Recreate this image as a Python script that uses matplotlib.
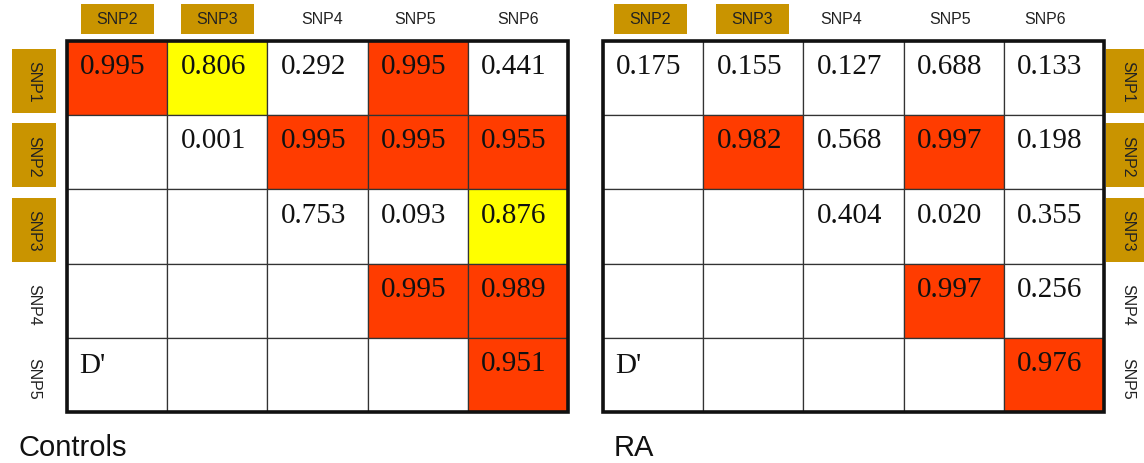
import matplotlib
matplotlib.use("Agg")
import matplotlib.pyplot as plt
from matplotlib.patches import Rectangle

snps_cols = ["SNP2", "SNP3", "SNP4", "SNP5", "SNP6"]
snps_rows = ["SNP1", "SNP2", "SNP3", "SNP4", "SNP5"]
highlight = {"SNP2", "SNP3"}

# Pairwise D' values, upper triangle (row SNP i vs column SNP j); None = empty
controls = [
    [0.995, 0.806, 0.292, 0.995, 0.441],
    [None, 0.001, 0.995, 0.995, 0.955],
    [None, None, 0.753, 0.093, 0.876],
    [None, None, None, 0.995, 0.989],
    [None, None, None, None, 0.951],
]
ra = [
    [0.175, 0.155, 0.127, 0.688, 0.133],
    [None, 0.982, 0.568, 0.997, 0.198],
    [None, None, 0.404, 0.020, 0.355],
    [None, None, None, 0.997, 0.256],
    [None, None, None, None, 0.976],
]
panel_titles = ["Controls", "RA"]

RED = "#ff3c00"
YELLOW = "#ffff00"
GOLD = "#c99400"

W, H = 1144, 464
fig = plt.figure(figsize=(W / 100, H / 100), dpi=100)


def px_axes(x0, y0, x1, y1):
    return fig.add_axes([x0 / W, 1 - y1 / H, (x1 - x0) / W, (y1 - y0) / H])


def cell_color(v):
    if v is None:
        return "white"
    if v >= 0.9:
        return RED
    if v >= 0.8:
        return YELLOW
    return "white"


def draw_panel(ax, data, label_side, col_shift):
    n = len(data)
    ax.set_xlim(0, n)
    ax.set_ylim(n, 0)
    ax.set_axis_off()
    ux = 501 / n  # pixels per column
    uy = 371 / n  # pixels per row
    for i, row in enumerate(data):
        for j, v in enumerate(row):
            ax.add_patch(Rectangle((j, i), 1, 1, facecolor=cell_color(v),
                                   edgecolor="#333333", linewidth=0.9))
            if v is not None:
                ax.text(j + 0.46, i + 0.34, f"{v:.3f}", ha="center", va="center",
                        fontsize=21, family="Liberation Serif", color="#111111")
    ax.text(0.12, n - 0.64, "D'", ha="left", va="center", fontsize=21,
            family="Liberation Serif", color="#111111")
    ax.add_patch(Rectangle((0, 0), n, n, fill=False, edgecolor="#111111",
                           linewidth=2.6, clip_on=False, zorder=5))
    # column headers
    bw, bh = 73 / ux, 30 / uy
    for j, name in enumerate(snps_cols):
        cx = j + 0.5 + col_shift[j]
        cy = -22 / uy
        if name in highlight:
            ax.add_patch(Rectangle((cx - bw / 2, cy - bh / 2), bw, bh,
                                   facecolor=GOLD, edgecolor="none", clip_on=False))
        ax.text(cx, cy, name, ha="center", va="center", fontsize=11.5,
                family="Liberation Sans", color="#222222")
    # row headers
    rw, rh = 44 / ux, 64 / uy
    for i, name in enumerate(snps_rows):
        if label_side == "left":
            cx = -33 / ux
        else:
            cx = n + 24 / ux
        cy = i + 0.5 + 3 / uy
        if name in {"SNP1"} | highlight:
            ax.add_patch(Rectangle((cx - rw / 2, cy - rh / 2), rw, rh,
                                   facecolor=GOLD, edgecolor="none", clip_on=False))
        ax.text(cx, cy, name, ha="center", va="center", fontsize=11.5,
                family="Liberation Sans", color="#222222", rotation=-90)


ax1 = px_axes(67, 42, 568, 413)
draw_panel(ax1, controls, "left", [0, 0, 0.05, -0.03, 0])
ax2 = px_axes(603, 42, 1104, 413)
draw_panel(ax2, ra, "right", [-0.03, -0.01, -0.12, -0.04, -0.09])

fig.text(18 / W, 1 - 448 / H, panel_titles[0], ha="left", va="center",
         fontsize=21, family="Liberation Sans", color="#111111")
fig.text(614 / W, 1 - 448 / H, panel_titles[1], ha="left", va="center",
         fontsize=21, family="Liberation Sans", color="#111111")

fig.savefig("out.png", dpi=100, facecolor="white")
